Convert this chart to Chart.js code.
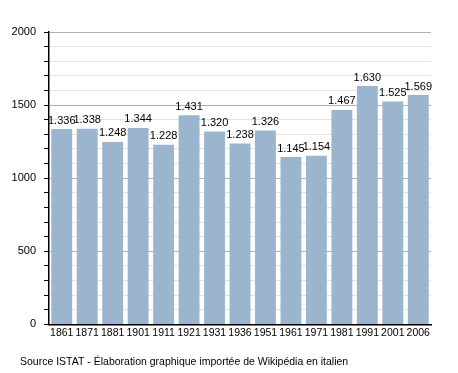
<!DOCTYPE html>
<html>
<head>
<meta charset="utf-8">
<script src="https://cdn.jsdelivr.net/npm/chart.js@4"></script>
<style>
  html, body { margin: 0; padding: 0; background: #fff; }
  #wrap { width: 458px; height: 373px; position: relative; }
</style>
</head>
<body>
<div id="wrap"><canvas id="pop"></canvas></div>
<script>
// ── Data ──────────────────────────────────────────────
const years = ['1861','1871','1881','1901','1911','1921','1931','1936','1951','1961','1971','1981','1991','2001','2006'];
const population = [1336, 1338, 1248, 1344, 1228, 1431, 1320, 1238, 1326, 1145, 1154, 1467, 1630, 1525, 1569];
const yTicks = [0, 500, 1000, 1500, 2000];
const sourceText = 'Source ISTAT - Élaboration graphique importée de Wikipédia en italien';

const FONT = 'Liberation Sans, Arial, sans-serif';

// value labels above bars, "1.336" style
const valueLabels = {
  id: 'valueLabels',
  afterDatasetsDraw(chart) {
    const { ctx } = chart;
    const meta = chart.getDatasetMeta(0);
    ctx.save();
    ctx.font = '11px ' + FONT;
    ctx.fillStyle = '#000';
    ctx.textAlign = 'center';
    ctx.textBaseline = 'bottom';
    meta.data.forEach((bar, i) => {
      const v = population[i];
      const txt = Math.floor(v / 1000) + '.' + String(v % 1000).padStart(3, '0');
      ctx.fillText(txt, bar.x, bar.y - 3);
    });
    ctx.restore();
  }
};

// source line at the bottom
const sourceNote = {
  id: 'sourceNote',
  afterDraw(chart) {
    const { ctx } = chart;
    ctx.save();
    ctx.font = '10.5px ' + FONT;
    ctx.fillStyle = '#000';
    ctx.textAlign = 'left';
    ctx.textBaseline = 'middle';
    ctx.fillText(sourceText, 20, 362);
    ctx.restore();
  }
};

new Chart(document.getElementById('pop'), {
  type: 'bar',
  data: {
    labels: years,
    datasets: [{
      data: population,
      backgroundColor: '#9cb5cf',
      borderWidth: 0,
      categoryPercentage: 1,
      barPercentage: 0.82,
    }]
  },
  options: {
    responsive: true,
    maintainAspectRatio: false,
    animation: false,
    layout: { padding: { left: 0, top: 32, right: 27, bottom: 32 } },
    plugins: {
      legend: { display: false },
      tooltip: { enabled: false }
    },
    scales: {
      x: {
        grid: { display: false, drawTicks: false },
        border: { color: '#000', width: 1.5 },
        ticks: { color: '#000', font: { family: FONT, size: 10.5 }, padding: 2, maxRotation: 0, autoSkip: false }
      },
      y: {
        min: 0,
        max: 2000,
        afterFit: (s) => { s.width = 49; },
        border: { color: '#000', width: 1.5 },
        grid: {
          color: (c) => (c.tick && c.tick.value % 500 === 0) ? '#b0b0b0' : '#e2e2e2',
          tickColor: '#000',
          tickLength: 5,
          drawTicks: true
        },
        ticks: {
          stepSize: 100,
          autoSkip: false,
          color: '#000',
          font: { family: FONT, size: 11 },
          padding: 8,
          callback: (v) => yTicks.includes(v) ? String(v) : ''
        }
      }
    }
  },
  plugins: [valueLabels, sourceNote]
});
</script>
</body>
</html>
